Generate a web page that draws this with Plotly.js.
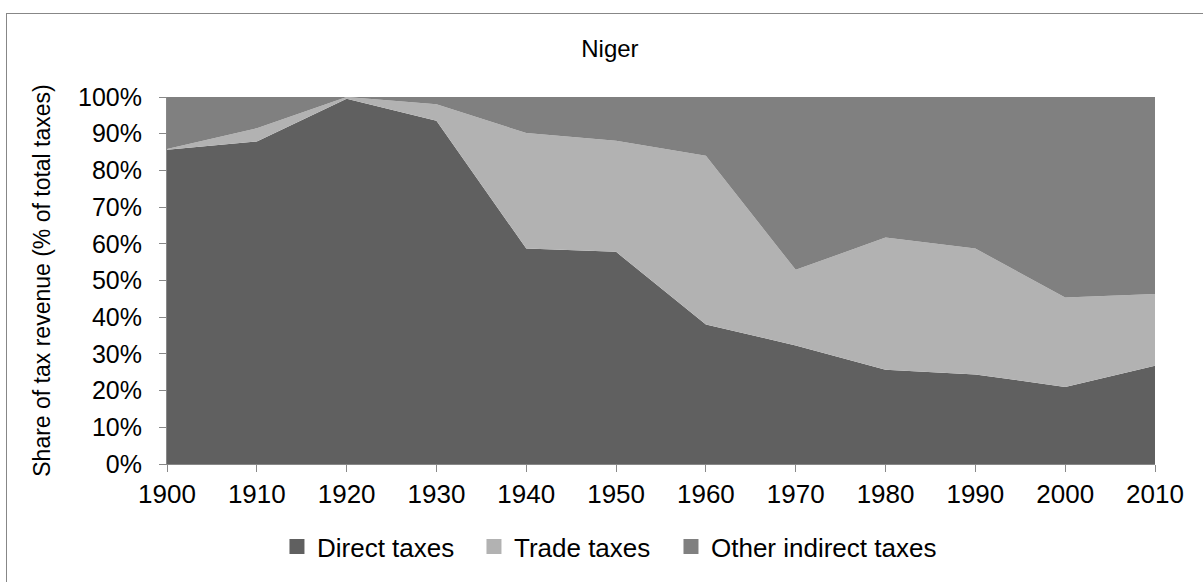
<!DOCTYPE html>
<html>
<head>
<meta charset="utf-8">
<script src="https://cdn.plot.ly/plotly-3.0.1.min.js"></script>
<style>
html,body{margin:0;padding:0;background:#fff;}
#frame{position:absolute;left:6px;top:13px;width:1240px;height:620px;border:1px solid #878787;box-sizing:border-box;}
#chart{position:absolute;left:0;top:0;width:1203px;height:582px;}
</style>
</head>
<body>
<div id="frame"></div>
<div id="chart"></div>
<script>
const years = [1900, 1910, 1920, 1930, 1940, 1950, 1960, 1970, 1980, 1990, 2000, 2010];
const directTaxes = [85.6, 87.9, 99.5, 93.5, 58.7, 57.8, 38.0, 32.3, 25.7, 24.4, 21.0, 26.8];
const tradeTaxes = [0.2, 3.6, 0.5, 4.5, 31.5, 30.3, 46.0, 20.6, 36.0, 34.3, 24.4, 19.5];
const otherIndirectTaxes = [14.2, 8.5, 0.0, 2.0, 9.8, 11.9, 16.0, 47.1, 38.3, 41.3, 54.6, 53.7];
const seriesNames = ['Direct taxes', 'Trade taxes', 'Other indirect taxes'];

const colors = ['#606060', '#b2b2b2', '#808080'];
const legendIds = ['legend', 'legend2', 'legend3'];
const series = [directTaxes, tradeTaxes, otherIndirectTaxes];
const traces = series.map((vals, i) => ({
  x: years,
  y: vals,
  name: seriesNames[i],
  legendgroup: seriesNames[i],
  type: 'scatter',
  mode: 'lines',
  stackgroup: 'one',
  line: {width: 0, color: colors[i]},
  fillcolor: colors[i],
  showlegend: false,
  hoverinfo: 'x+y+name'
}));
// legend-only entries with square swatches
seriesNames.forEach((nm, i) => {
  traces.push({
    x: [null], y: [null],
    name: nm,
    legendgroup: nm,
    legend: legendIds[i],
    type: 'scatter',
    mode: 'markers',
    marker: {symbol: 'square', size: 15, color: colors[i]},
    showlegend: true
  });
});

const fam = '"Liberation Sans", Arial, sans-serif';
const font = {family: fam, size: 26, color: '#000'};

function legendAt(x) {
  return {
    orientation: 'h',
    x: x, xanchor: 'left',
    y: -0.225, yanchor: 'middle',
    font: font,
    itemwidth: 30,
    bgcolor: 'rgba(0,0,0,0)'
  };
}

const layout = {
  width: 1203,
  height: 582,
  margin: {l: 167, r: 48, t: 97, b: 116},
  paper_bgcolor: 'rgba(0,0,0,0)',
  plot_bgcolor: 'rgba(0,0,0,0)',
  font: font,
  showlegend: true,
  title: {
    text: 'Niger',
    font: {family: fam, size: 24, color: '#000'},
    xref: 'container', x: 0.507, xanchor: 'center',
    yref: 'container', y: 0.916, yanchor: 'middle'
  },
  xaxis: {
    range: [1900, 2010],
    tickmode: 'array',
    tickvals: years,
    ticktext: years.map(String),
    showgrid: false,
    zeroline: false,
    showline: true,
    linecolor: '#888',
    linewidth: 1,
    ticks: 'outside',
    ticklen: 7,
    tickcolor: '#888',
    tickfont: font
  },
  yaxis: {
    range: [0, 100],
    dtick: 10,
    ticksuffix: '%',
    showgrid: false,
    zeroline: false,
    showline: true,
    linecolor: '#888',
    linewidth: 1,
    ticks: 'outside',
    ticklen: 7,
    tickcolor: '#888',
    tickfont: {family: fam, size: 25, color: '#000'},
    ticklabelstandoff: 12,
    title: {text: 'Share of tax revenue (% of total taxes)', font: {family: fam, size: 23, color: '#000'}, standoff: 20}
  },
  legend: legendAt(0.1113),
  legend2: legendAt(0.3107),
  legend3: legendAt(0.5101)
};

Plotly.newPlot('chart', traces, layout, {displayModeBar: false, staticPlot: true});
</script>
</body>
</html>
